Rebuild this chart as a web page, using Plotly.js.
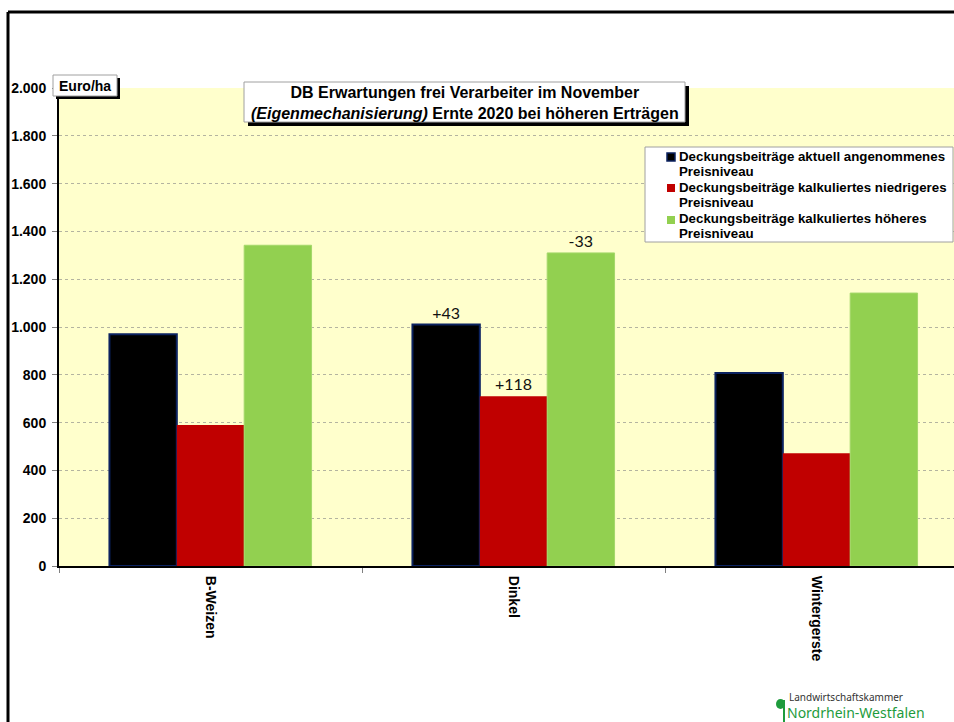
<!DOCTYPE html>
<html>
<head>
<meta charset="utf-8">
<script src="https://cdn.plot.ly/plotly-3.0.1.min.js"></script>
<style>
  html, body { margin: 0; padding: 0; background: #ffffff; overflow: hidden; }
  #chart { width: 954px; height: 722px; }
</style>
</head>
<body>
<div id="chart"></div>
<script>
// Crops and the expected contribution margins (Euro/ha)
const categories = ['B-Weizen', 'Dinkel', 'Wintergerste'];
const aktuell   = [970, 1010, 808];
const niedriger = [590, 710, 472];
const hoeher    = [1342, 1310, 1142];

// Change labels printed above the Dinkel bars
const aktuellText   = ['', '+43', ''];
const niedrigerText = ['', '+118', ''];
const hoeherText    = ['', '-33', ''];

// Series names, split into the two lines shown in the legend box
const seriesLines = [
  ['Deckungsbeiträge aktuell angenommenes', 'Preisniveau'],
  ['Deckungsbeiträge kalkuliertes niedrigeres', 'Preisniveau'],
  ['Deckungsbeiträge kalkuliertes höheres', 'Preisniveau']
];
const seriesColors = ['#000000', '#C00000', '#92D050'];
const seriesEdges  = ['#0B2260', '#C00000', '#A4D86A'];

const yTicks = [0, 200, 400, 600, 800, 1000, 1200, 1400, 1600, 1800, 2000];

const chartTitle = '<b>DB Erwartungen frei Verarbeiter im November<br><i>(Eigenmechanisierung)</i> Ernte 2020 bei höheren Erträgen</b>';
const unitLabel = '<b>Euro/ha</b>';

// Plot area in pixels, used to place boxes and decorations in paper units
const W = 954, H = 722;
const PL = 59, PR = 954, PT = 88, PB = 566;
const px = x => (x - PL) / (PR - PL);
const py = y => (PB - y) / (PB - PT);

const sans = '"Liberation Sans", Arial, sans-serif';
const labelFont = { family: 'Lato, "Open Sans", sans-serif', size: 16, color: '#111111' };

const valueSets = [aktuell, niedriger, hoeher];
const textSets = [aktuellText, niedrigerText, hoeherText];

const traces = valueSets.map((vals, i) => ({
  type: 'bar',
  name: seriesLines[i].join(' '),
  x: categories,
  y: vals,
  text: textSets[i],
  textposition: 'outside',
  textfont: labelFont,
  cliponaxis: false,
  showlegend: false,
  marker: { color: seriesColors[i], line: { color: seriesEdges[i], width: i === 0 ? 2 : (i === 2 ? 1 : 0) } }
}));

const shapes = [
  // outer frame (left and top edges)
  { type: 'line', xref: 'paper', yref: 'paper', x0: px(8), x1: px(8), y0: py(12), y1: py(730),
    line: { color: '#000000', width: 3 } },
  { type: 'line', xref: 'paper', yref: 'paper', x0: px(8), x1: px(960), y0: py(12), y1: py(12),
    line: { color: '#000000', width: 3 } },
  // unit box with shadow
  { type: 'rect', xref: 'paper', yref: 'paper', x0: px(56), x1: px(120), y0: py(78), y1: py(99),
    fillcolor: '#000000', line: { width: 0 } },
  { type: 'rect', xref: 'paper', yref: 'paper', x0: px(53), x1: px(117), y0: py(75), y1: py(96),
    fillcolor: '#ffffff', line: { color: '#A0A0A0', width: 1 } },
  // title box with shadow
  { type: 'rect', xref: 'paper', yref: 'paper', x0: px(248), x1: px(689), y0: py(86), y1: py(126),
    fillcolor: '#000000', line: { width: 0 } },
  { type: 'rect', xref: 'paper', yref: 'paper', x0: px(244), x1: px(685), y0: py(82), y1: py(122),
    fillcolor: '#ffffff', line: { color: '#A0A0A0', width: 1 } },
  // legend box
  { type: 'rect', xref: 'paper', yref: 'paper', x0: px(645), x1: px(953), y0: py(147), y1: py(242),
    fillcolor: '#ffffff', line: { color: '#A0A0A0', width: 1 } },
  // logo leaf
  { type: 'circle', xref: 'paper', yref: 'paper', x0: px(776), x1: px(785), y0: py(699), y1: py(709),
    fillcolor: '#1E9B3C', line: { width: 0 } },
  { type: 'line', xref: 'paper', yref: 'paper', x0: px(784), x1: px(784), y0: py(700), y1: py(722),
    line: { color: '#1E9B3C', width: 2 } }
];

const annotations = [
  { xref: 'paper', yref: 'paper', x: px(85), y: py(86), xanchor: 'center', yanchor: 'middle',
    text: unitLabel, showarrow: false, font: { family: sans, size: 14, color: '#000000' } },
  { xref: 'paper', yref: 'paper', x: px(465), y: py(103), xanchor: 'center', yanchor: 'middle',
    text: chartTitle, showarrow: false, font: { family: sans, size: 16, color: '#000000' } },
  { xref: 'paper', yref: 'paper', x: px(787), y: py(697), xanchor: 'left', yanchor: 'middle',
    text: 'Landwirtschaftskammer', showarrow: false,
    font: { family: '"Noto Sans", sans-serif', size: 10, color: '#333333' } },
  { xref: 'paper', yref: 'paper', x: px(785), y: py(712), xanchor: 'left', yanchor: 'middle',
    text: 'Nordrhein-Westfalen', showarrow: false,
    font: { family: '"Noto Sans", sans-serif', size: 14, color: '#1E9B3C' } }
];

// Legend entries: swatch plus two text lines each
const legendRows = [156, 187, 219];
seriesLines.forEach((lines, i) => {
  const cy = legendRows[i] + 1;
  shapes.push({
    type: 'rect', xref: 'paper', yref: 'paper',
    x0: px(667), x1: px(675), y0: py(cy - 4), y1: py(cy + 4),
    fillcolor: seriesColors[i], line: { color: i === 0 ? '#0B2260' : seriesColors[i], width: i === 0 ? 1.5 : 0 }
  });
  lines.forEach((line, j) => {
    annotations.push({
      xref: 'paper', yref: 'paper', x: px(677), y: py(legendRows[i] + 15 * j),
      xanchor: 'left', yanchor: 'middle', text: '<b>' + line + '</b>', showarrow: false,
      font: { family: sans, size: 13.3, color: '#000000' }
    });
  });
});

const layout = {
  width: W, height: H,
  margin: { l: PL, r: W - PR, t: PT, b: H - PB, pad: 0 },
  paper_bgcolor: '#ffffff',
  plot_bgcolor: '#FFFFCC',
  separators: ',.',
  barmode: 'group',
  bargap: 0.333,
  bargroupgap: 0,
  showlegend: false,
  xaxis: {
    type: 'category',
    range: [-0.5, 2.5 - (968 - PR) / 303],
    tickangle: 90,
    tickfont: { family: sans, size: 14, color: '#000000', weight: 'bold' },
    ticks: 'outside', tickson: 'boundaries', ticklen: 5, tickcolor: '#808080',
    ticklabelstandoff: 5,
    showline: true, linecolor: '#000000', linewidth: 2,
    showgrid: false, zeroline: false, fixedrange: true
  },
  yaxis: {
    range: [0, 2000],
    tickvals: yTicks,
    tickformat: ',d',
    tickfont: { family: sans, size: 14, color: '#000000', weight: 'bold' },
    ticks: 'outside', ticklen: 5, tickcolor: '#808080',
    ticklabelstandoff: 3,
    showline: true, linecolor: '#000000', linewidth: 2,
    showgrid: true, gridcolor: '#B4B4A0', griddash: 'dot', gridwidth: 1,
    zeroline: false, fixedrange: true
  },
  shapes: shapes,
  annotations: annotations
};

Plotly.newPlot('chart', traces, layout, { displayModeBar: false, staticPlot: true });
</script>
</body>
</html>
